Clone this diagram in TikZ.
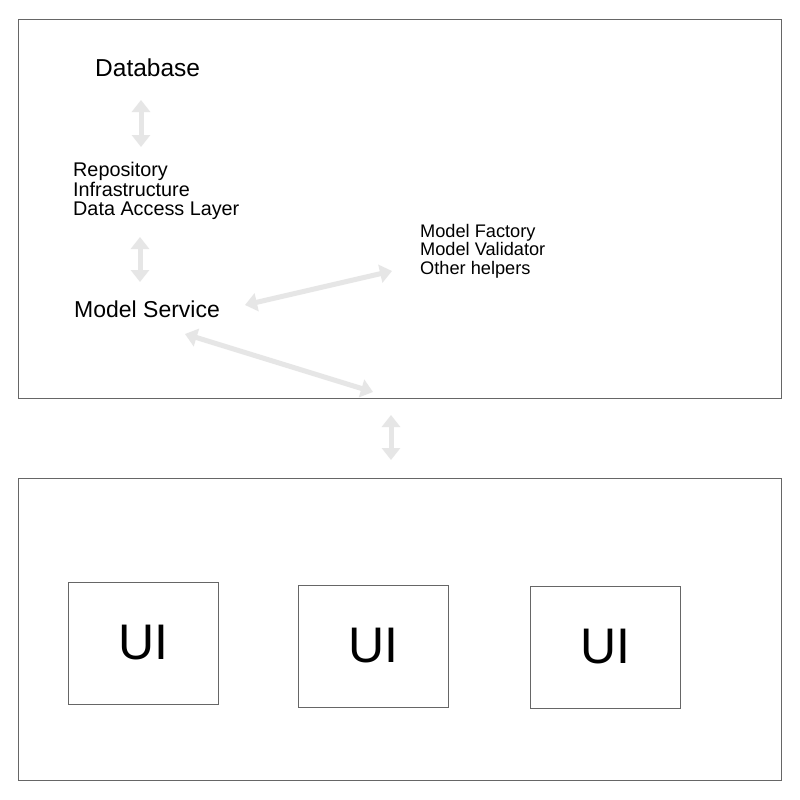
\documentclass[tikz,border=0pt]{standalone}
\usepackage{fontspec}
\setmainfont{Liberation Sans}
\usetikzlibrary{arrows.meta}
\definecolor{frame}{HTML}{666666}
\definecolor{arrowgray}{HTML}{E6E6E6}
\begin{document}
\begin{tikzpicture}[x=1pt,y=-1pt,
  panel/.style={draw=frame,line width=1pt},
  uibox/.style={draw=frame,line width=1pt,minimum width=150pt,minimum height=122pt,inner sep=0pt,font=\fontsize{50}{50}\selectfont},
  lbl/.style={inner sep=0pt,anchor=base west,align=left},
  link/.style={draw=arrowgray,line width=5pt,{Triangle[width=18pt,length=12pt]}-{Triangle[width=18pt,length=12pt]}}]
\useasboundingbox[fill=white] (0,0) rectangle (800,800);
% panels
\draw[panel] (18,20) rectangle (781,398);
\draw[panel] (18,478) rectangle (781,780);
% UI boxes
\node[uibox] (ui1) at (143,643) {UI};
\node[uibox] (ui2) at (373,646) {UI};
\node[uibox] (ui3) at (605,647) {UI};
% labels (base = baseline of last line)
\node[lbl,font=\fontsize{24.5}{28}\selectfont] (db) at (95,76) {Database};
\node[lbl,font=\fontsize{19.8}{19.5}\selectfont] (repo) at (73,215.5) {Repository\\Infrastructure\\Data Access Layer};
\node[lbl,font=\fontsize{23}{26}\selectfont] (ms) at (74,317.5) {Model Service};
\node[lbl,font=\fontsize{18.2}{18.7}\selectfont] (mf) at (420,274.5) {Model Factory\\Model Validator\\Other helpers};
% arrow end points
\coordinate (a1s) at (141,100); \coordinate (a1e) at (141,147);
\coordinate (a2s) at (140,237); \coordinate (a2e) at (140,282);
\coordinate (a3s) at (245,305); \coordinate (a3e) at (392,271);
\coordinate (a4s) at (185,334); \coordinate (a4e) at (373,392);
\coordinate (a5s) at (391,415); \coordinate (a5e) at (391,460);
\draw[link] (a1s) -- (a1e);
\draw[link] (a2s) -- (a2e);
\draw[link] (a3s) -- (a3e);
\draw[link] (a4s) -- (a4e);
\draw[link] (a5s) -- (a5e);
\end{tikzpicture}
\end{document}
